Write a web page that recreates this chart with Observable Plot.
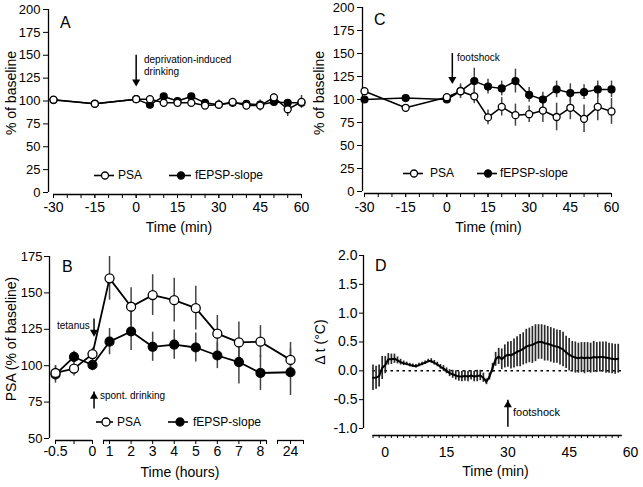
<!DOCTYPE html>
<html><head><meta charset="utf-8">
<script src="https://cdn.jsdelivr.net/npm/d3@7"></script>
<script src="https://cdn.jsdelivr.net/npm/@observablehq/plot@0.6"></script>
<style>
body{margin:0;background:#fff;}
#fig{position:relative;width:643px;height:487px;overflow:hidden;font-family:"Liberation Sans",Arial,Helvetica,sans-serif;color:#000;background:#fff;}
#fig > svg{position:absolute;left:0;top:0;}
#fig svg, #fig svg text{font-family:"Liberation Sans",Arial,Helvetica,sans-serif !important;}
.t{position:absolute;white-space:nowrap;line-height:1;}
.rot{position:absolute;white-space:nowrap;line-height:1;transform:translate(-50%,-50%) rotate(-90deg);}
</style></head><body><div id="fig"></div><script>
// ---------- Panel A (deprivation-induced drinking) ----------
const timeA = [-30,-15,0,5,10,15,20,25,30,35,40,45,50,55,60];
const psaA = [101.5,97,102,102,98,98,98,95,96,99,95,95,104,91,99];
const psaAErr = [2,2,2,3,3,4,3,3,5,3,4,6,4,8,7];
const fepspA = [101,97,102,96,105,100,105,98,96,98,97,96,99,98,98];
const fepspAErr = [1,1,1,3,3,3,3,3,3,3,3,3,3,3,3];
const yTicksA = [0,25,50,75,100,125,150,175,200];
const xMinorA = [-30,-25,-20,-15,-10,-5,0,5,10,15,20,25,30,35,40,45,50,55,60];
const xLabelsA = [-30,-15,0,15,30,45,60];
const arrowA = [{x:0, from:150, to:116}];

// ---------- Panel C (footshock) ----------
const timeC = [-30,-15,0,5,10,15,20,25,30,35,40,45,50,55,60];
const psaC = [109,91,102.5,109,103.5,80.5,92,83,84,88,81,91,79,92,87];
const psaCErr = [2,2,3,8,8,8,10,12,9,13,15,13,15,15,14];
const fepspC = [100,101.5,100,109,120,114,112,120,105,100,111,107,108,111,111];
const fepspCErr = [2,2,2,6,14,8,8,13,8,8,9,10,8,9,9];
const arrowC = [{x:2, from:150, to:117}];

// ---------- Panel B (spontaneous drinking, hours) ----------
const hoursB = [-0.5,-0.25,0,1,2,3,4,5,6,7,8,24];
const psaB = [95,98,108,160,140.5,148.5,145,139.5,122,116,116.5,104];
const psaBErr = [5,5,4,15,13,14,15,15,12.5,14,11,12];
const fepspB = [94,106,100.5,116.5,123.5,113,114.5,112.5,107,102.5,95,95.5];
const fepspBErr = [6,4,4,9,13,10,10,10,9,15,12,16];
const yTicksB = [50,75,100,125,150,175];
const xLabelsB = [-0.5,0,1,2,3,4,5,6,7,8,24];
const xTickMarksB = [-0.5,-0.25,0,0.72,1,2,3,4,5,6,7,8,8.28,23.4,24,24.6];
const axisSegB = [{x1:-0.5,x2:0},{x1:0.72,x2:8.28},{x1:23.4,x2:24.6}];
const breakHours = [-0.5, 0, 0.72, 8.28, 23.4, 24.6];   // broken-axis break points (hours)
const breakUnits = [0, 37, 48, 211, 222, 248];           // compressed axis units
const arrowBdown = [{x:0.1, from:132, to:120}];
const arrowBup = [{x:0.1, from:73, to:82}];

// ---------- Panel D (temperature) ----------
const tempMean = [
 -0.12,-0.12,-0.09,0.05,0.1,0.2,0.2,0.21,0.18,0.15,
 0.13,0.12,0.1,0.09,0.08,0.1,0.12,0.14,0.17,0.17,
 0.14,0.11,0.07,0.04,0,-0.04,-0.06,-0.08,-0.1,-0.1,
 -0.09,-0.1,-0.08,-0.1,-0.09,-0.08,-0.12,-0.19,-0.1,0.05,
 0.2,0.25,0.2,0.25,0.28,0.27,0.3,0.33,0.35,0.38,
 0.42,0.44,0.45,0.48,0.5,0.5,0.48,0.47,0.45,0.43,
 0.42,0.4,0.37,0.32,0.28,0.25,0.23,0.22,0.23,0.22,
 0.23,0.22,0.24,0.23,0.24,0.24,0.23,0.22,0.21,0.2,0.21];
const tempErr = [
 0.22,0.2,0.19,0.2,0.15,0.1,0.09,0.08,0.06,0.05,
 0.04,0.03,0.03,0.03,0.03,0.03,0.03,0.03,0.03,0.04,
 0.04,0.04,0.04,0.05,0.05,0.06,0.07,0.08,0.08,0.09,
 0.09,0.09,0.08,0.09,0.1,0.09,0.08,0.05,0.06,0.08,
 0.12,0.14,0.18,0.2,0.22,0.24,0.25,0.26,0.28,0.28,
 0.3,0.3,0.32,0.32,0.3,0.3,0.31,0.3,0.3,0.3,
 0.29,0.3,0.3,0.28,0.28,0.26,0.27,0.26,0.26,0.27,
 0.26,0.26,0.27,0.26,0.26,0.26,0.27,0.26,0.26,0.26,0.25];
const tempStart = -3, tempStep = 0.75; // sampling grid (min)
const yTicksD = [-1,-0.5,0,0.5,1,1.5,2];
const xLabelsD = [0,15,30,45,60];
const xTickMarksD = d3.range(-3, 57.01, 1.5);
const arrowD = [{x:30, from:-0.91, to:-0.51}];

// ---------------------------------------------------------
const W = 643, H = 487;
const FONT = "'Liberation Sans', Arial, Helvetica, sans-serif";
const fig = document.getElementById("fig");
const fmt = d => String(d);

function addPlot(opts) {
  const el = Plot.plot({width: W, height: H,
    style: {background: "transparent", fontFamily: FONT, color: "#000", overflow: "visible"}, ...opts});
  el.style.position = "absolute"; el.style.left = "0px"; el.style.top = "0px";
  fig.appendChild(el);
}
function rows(xs, p, pe, f, fe) {
  return xs.map((x, i) => ({x, p: p[i], pe: pe[i], f: f[i], fe: fe[i]}));
}
function seriesMarks(data, r, sw) {
  return [
    Plot.ruleX(data, {x: "x", y1: d => d.f - d.fe, y2: d => d.f + d.fe, stroke: "#444", strokeWidth: 1.5}),
    Plot.ruleX(data, {x: "x", y1: d => d.p - d.pe, y2: d => d.p + d.pe, stroke: "#444", strokeWidth: 1.5}),
    Plot.line(data, {x: "x", y: "f", stroke: "#000", strokeWidth: sw}),
    Plot.line(data, {x: "x", y: "p", stroke: "#000", strokeWidth: sw}),
    Plot.dot(data, {x: "x", y: "f", r, fill: "#000", stroke: "#000", strokeWidth: 1.2}),
    Plot.dot(data, {x: "x", y: "p", r, fill: "#fff", stroke: "#000", strokeWidth: 1.3})
  ];
}
function arrowMarks(data, down) {
  return [
    Plot.ruleX(data, {x: "x", y1: "from", y2: "to", stroke: "#000", strokeWidth: 1.5,
      insetBottom: down ? 4 : 0, insetTop: down ? 0 : 4}),
    Plot.dot(data, {x: "x", y: "to", symbol: "triangle", r: 3, fill: "#000", stroke: null,
      rotate: down ? 180 : 0, dy: down ? -4.6 : 4.6})
  ];
}

// Panel A
addPlot({
  marginLeft: 48, marginTop: 9, marginRight: W - 305, marginBottom: H - 194,
  x: {domain: [-30, 60], range: [53, 301], label: null},
  y: {domain: [0, 200], range: [192, 9], label: null},
  marks: [
    Plot.ruleX([-30], {y1: 0, y2: 200, dx: -5, strokeWidth: 1.3}),
    Plot.ruleY([0], {x1: -30, x2: 60, dy: 2, strokeWidth: 1.3}),
    Plot.axisY({ticks: yTicksA, tickSize: 5, tickPadding: 3, fontSize: 13, label: null, tickFormat: fmt}),
    Plot.axisX({ticks: xMinorA, tickSize: 4, tickFormat: () => "", label: null}),
    Plot.axisX({ticks: xLabelsA, tickSize: 4, tickPadding: 4, fontSize: 14, label: null, tickFormat: fmt}),
    ...seriesMarks(rows(timeA, psaA, psaAErr, fepspA, fepspAErr), 3.5, 1.5),
    ...arrowMarks(arrowA, true)
  ]
});

// Panel C
addPlot({
  marginLeft: 362, marginTop: 7, marginRight: W - 615, marginBottom: H - 193,
  x: {domain: [-30, 60], range: [364, 611], label: null},
  y: {domain: [0, 200], range: [191, 7], label: null},
  marks: [
    Plot.ruleX([-30], {y1: 0, y2: 200, dx: -2, strokeWidth: 1.3}),
    Plot.ruleY([0], {x1: -30, x2: 60, dy: 2, strokeWidth: 1.3}),
    Plot.axisY({ticks: yTicksA, tickSize: 5, tickPadding: 3, fontSize: 13, label: null, tickFormat: fmt}),
    Plot.axisX({ticks: xMinorA, tickSize: 4, tickFormat: () => "", label: null}),
    Plot.axisX({ticks: xLabelsA, tickSize: 4, tickPadding: 5, fontSize: 14, label: null, tickFormat: fmt}),
    ...seriesMarks(rows(timeC, psaC, psaCErr, fepspC, fepspCErr), 3.5, 1.5),
    ...arrowMarks(arrowC, true)
  ]
});

// Panel B (broken time axis: hours mapped to compressed units, then Plot's linear x scale)
const posB = d3.scaleLinear().domain(breakHours).range(breakUnits);
const labelB = new Map(xLabelsB.map(h => [posB(h), String(h)]));
const rowsB = rows(hoursB.map(posB), psaB, psaBErr, fepspB, fepspBErr);
const segB = axisSegB.map(s => ({x1: posB(s.x1), x2: posB(s.x2)}));
const arrB1 = arrowBdown.map(a => ({...a, x: posB(a.x)}));
const arrB2 = arrowBup.map(a => ({...a, x: posB(a.x)}));
addPlot({
  marginLeft: 49, marginTop: 250, marginRight: W - 305, marginBottom: H - 440,
  x: {domain: [0, 248], range: [55, 303], label: null},
  y: {domain: [50, 175], range: [438, 256], label: null},
  marks: [
    Plot.ruleX([0], {y1: 50, y2: 175, dx: -6, strokeWidth: 1.3}),
    Plot.ruleY(segB, {x1: "x1", x2: "x2", y: 50, dy: 2, strokeWidth: 1.3}),
    Plot.axisY({ticks: yTicksB, tickSize: 5, tickPadding: 2, fontSize: 13, label: null, tickFormat: fmt}),
    Plot.axisX({ticks: xTickMarksB.map(posB), tickSize: 4, tickFormat: () => "", label: null}),
    Plot.axisX({ticks: xLabelsB.map(posB), tickSize: 0, tickPadding: 6, fontSize: 14, label: null,
      tickFormat: d => labelB.get(d)}),
    ...seriesMarks(rowsB, 4.5, 1.8),
    ...arrowMarks(arrB1, true),
    ...arrowMarks(arrB2, false)
  ]
});

// Panel D
const rowsD = tempMean.map((v, i) => ({t: tempStart + i * tempStep, v, e: tempErr[i]}));
addPlot({
  marginLeft: 363, marginTop: 250, marginRight: W - 640, marginBottom: H - 435,
  x: {domain: [-3, 60], range: [372.5, 630], label: null},
  y: {domain: [-1, 2], range: [428, 255], label: null},
  marks: [
    Plot.ruleX([-3], {y1: -1, y2: 2, dx: -9.5, strokeWidth: 1.3}),
    Plot.ruleY([-1], {x1: -3, x2: 58, dy: 7, strokeWidth: 1.3}),
    Plot.ruleY([0], {x1: -3, x2: 58, stroke: "#000", strokeWidth: 1.5, strokeDasharray: "2.5,3.5"}),
    Plot.axisY({ticks: yTicksD, tickSize: 4, tickPadding: 2, fontSize: 14, label: null, tickFormat: d => d.toFixed(1)}),
    Plot.axisX({ticks: xTickMarksD, tickSize: 3, tickFormat: () => "", label: null}),
    Plot.axisX({ticks: xLabelsD, tickSize: 0, tickPadding: 12, fontSize: 14, label: null, tickFormat: fmt}),
    Plot.ruleX(rowsD, {x: "t", y1: d => d.v - d.e, y2: d => d.v + d.e, stroke: "#2a2a2a", strokeWidth: 1.7}),
    Plot.line(rowsD, {x: "t", y: "v", stroke: "#000", strokeWidth: 2}),
    ...arrowMarks(arrowD, false)
  ]
});

// ---------- text (titles, panel letters, annotations) ----------
function txt(s, x, baseline, size, opts = {}) {
  const d = document.createElement("div");
  d.className = "t";
  d.textContent = s;
  d.style.fontSize = size + "px";
  d.style.top = (baseline - 0.846 * size) + "px";
  d.style.left = x + "px";
  if (opts.center) d.style.transform = "translateX(-50%)";
  fig.appendChild(d);
}
function rot(s, cx, cy, size) {
  const d = document.createElement("div");
  d.className = "rot";
  d.textContent = s;
  d.style.fontSize = size + "px";
  d.style.left = cx + "px"; d.style.top = cy + "px";
  fig.appendChild(d);
}
// A
txt("A", 60, 28.5, 16);
txt("deprivation-induced", 144, 63, 10);
txt("drinking", 144, 75, 10);
txt("Time (min)", 179, 232, 14, {center: true});
rot("% of baseline", 10.5, 93, 14);
// C
txt("C", 374, 26, 16);
txt("footshock", 457, 61.5, 10);
txt("Time (min)", 488.5, 232, 14, {center: true});
rot("% of baseline", 318.5, 93, 14);
// B
txt("B", 62, 273, 16);
txt("tetanus", 57, 329.5, 10);
txt("spont. drinking", 100, 399.5, 10);
txt("Time (hours)", 180, 477, 14, {center: true});
rot("PSA (% of baseline)", 11, 339, 14);
// D
txt("D", 375, 272, 16);
txt("footshock", 513, 416, 11);
txt("Time (min)", 495.5, 476, 14, {center: true});
rot("\u0394 t (\u00B0C)", 320, 342, 14);

// ---------- legends ----------
const NS = "http://www.w3.org/2000/svg";
function legendItem(x1, x2, cx, cy, r, filled, tx, label) {
  const s = document.createElementNS(NS, "svg");
  const h = 2 * r + 4;
  s.setAttribute("width", x2 - x1); s.setAttribute("height", h);
  s.style.position = "absolute"; s.style.left = x1 + "px"; s.style.top = (cy - h / 2) + "px";
  const l = document.createElementNS(NS, "line");
  l.setAttribute("x1", 0); l.setAttribute("x2", x2 - x1); l.setAttribute("y1", h / 2); l.setAttribute("y2", h / 2);
  l.setAttribute("stroke", "#000"); l.setAttribute("stroke-width", 1.6);
  const c = document.createElementNS(NS, "circle");
  c.setAttribute("cx", cx - x1); c.setAttribute("cy", h / 2); c.setAttribute("r", r);
  c.setAttribute("fill", filled ? "#000" : "#fff"); c.setAttribute("stroke", "#000"); c.setAttribute("stroke-width", 1.3);
  s.appendChild(l); s.appendChild(c);
  fig.appendChild(s);
  txt(label, tx, cy + 4.3, 12);
}
legendItem(94, 114, 105, 175, 3.5, false, 118, "PSA");
legendItem(169, 191, 181, 175, 3.5, true, 195, "fEPSP-slope");
legendItem(403, 423, 414, 173, 3.5, false, 430, "PSA");
legendItem(477, 497, 488, 173, 3.5, true, 500, "fEPSP-slope");
legendItem(96, 113, 106, 422, 4, false, 117, "PSA");
legendItem(168, 188, 180, 422, 4, true, 193, "fEPSP-slope");
</script></body></html>
